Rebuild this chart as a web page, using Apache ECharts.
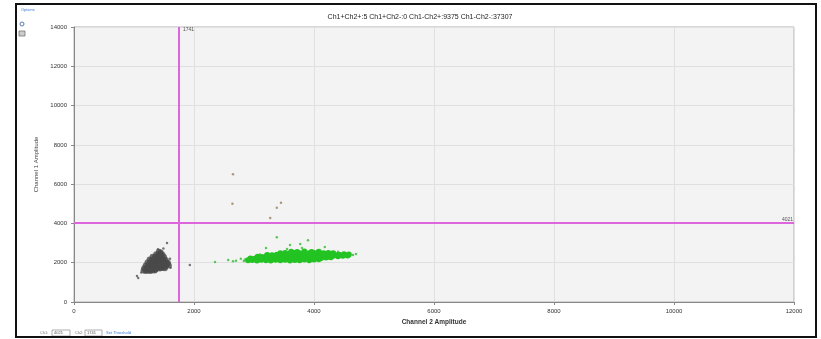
<!DOCTYPE html>
<html>
<head>
<meta charset="utf-8">
<script src="https://cdn.jsdelivr.net/npm/echarts@6/dist/echarts.min.js"></script>
<style>
  html, body { margin: 0; padding: 0; background: #fff; }
  #chart { width: 821px; height: 339px; }
</style>
</head>
<body>
<div id="chart"></div>
<script>
// counts shown in the title
const countLabels = ['Ch1+Ch2+', 'Ch1+Ch2-', 'Ch1-Ch2+', 'Ch1-Ch2-'];
const countValues = [5, 0, 9375, 37307];

// thresholds
const ch1Threshold = 4021;
const ch2Threshold = 1741;

const xTicks = [0, 2000, 4000, 6000, 8000, 10000, 12000];
const yTicks = [0, 2000, 4000, 6000, 8000, 10000, 12000, 14000];

// Ch1-Ch2- droplets, dense core (grey cluster) [Ch2, Ch1]
const negCore = [
  [1415, 2560], [1445, 2520],
  [1370, 2430], [1405, 2400], [1440, 2450], [1475, 2410],
  [1310, 2300], [1345, 2270], [1385, 2320], [1420, 2280], [1460, 2320], [1500, 2290],
  [1260, 2160], [1295, 2130], [1335, 2180], [1372, 2140], [1410, 2170], [1450, 2120], [1490, 2160], [1530, 2140],
  [1225, 2010], [1260, 1980], [1295, 2030], [1335, 1990], [1370, 2020], [1410, 1970], [1450, 2010], [1490, 1990], [1530, 2030], [1565, 2000],
  [1195, 1860], [1230, 1830], [1265, 1870], [1300, 1840], [1340, 1880], [1380, 1850], [1420, 1830], [1458, 1870], [1500, 1850], [1540, 1870], [1580, 1860],
  [1170, 1720], [1205, 1700], [1240, 1720], [1275, 1700], [1315, 1730], [1350, 1700], [1390, 1720], [1430, 1700], [1470, 1730], [1515, 1720],
  [1160, 1600], [1195, 1580], [1230, 1610], [1265, 1580], [1300, 1610], [1345, 1600],
  [1210, 1650], [1285, 1650], [1360, 1660], [1440, 1780], [1520, 1790], [1555, 1940],
  [1320, 2080], [1400, 2070], [1480, 2090], [1350, 1930], [1430, 1920], [1510, 1940]
];

// Ch1-Ch2- droplets, stragglers [Ch2, Ch1]
const negSparse = [
  [1550, 3000], [1490, 2720], [1400, 2680], [1070, 1220], [1050, 1330],
  [1600, 2200], [1930, 1880], [1120, 1500], [1610, 1750]
];

// Ch1-Ch2+ droplets, dense core (green cluster) [Ch2, Ch1]
const ch2Core = [
  [2900, 2120], [2970, 2140], [3050, 2110], [3120, 2150], [3200, 2120], [3280, 2110], [3360, 2150],
  [3440, 2120], [3520, 2150], [3600, 2110], [3680, 2140], [3760, 2120], [3840, 2160], [3920, 2130], [4000, 2170], [4080, 2180],
  [2940, 2220], [3010, 2200], [3080, 2240], [3160, 2210], [3240, 2230], [3320, 2200], [3400, 2240],
  [3480, 2210], [3560, 2200], [3640, 2250], [3720, 2210], [3800, 2200], [3880, 2240], [3960, 2220],
  [4040, 2260], [4120, 2240], [4200, 2270], [4280, 2280],
  [3060, 2300], [3130, 2290], [3200, 2320], [3280, 2300], [3360, 2310], [3440, 2290], [3520, 2330],
  [3600, 2300], [3680, 2290], [3760, 2320], [3840, 2310], [3920, 2300], [4000, 2330], [4080, 2310],
  [4160, 2340], [4240, 2320], [4320, 2350], [4400, 2330], [4480, 2360], [4560, 2370],
  [3220, 2390], [3300, 2380], [3380, 2410], [3460, 2390], [3540, 2400], [3620, 2380], [3700, 2420],
  [3780, 2400], [3860, 2390], [3940, 2420], [4020, 2400], [4100, 2390], [4180, 2420], [4260, 2400],
  [4340, 2420], [4420, 2410], [4500, 2430], [4580, 2420],
  [3440, 2480], [3520, 2490], [3600, 2470], [3680, 2500], [3760, 2480], [3840, 2500], [3920, 2480],
  [4000, 2500], [4080, 2490], [4160, 2480], [4240, 2500], [4320, 2480],
  [3620, 2560], [3720, 2540], [3840, 2570], [3960, 2550], [4080, 2560]
];

// Ch1-Ch2+ droplets, stragglers [Ch2, Ch1]
const ch2Sparse = [
  [2350, 2040], [2570, 2140], [2650, 2080], [2700, 2100], [2780, 2200], [2830, 2090], [2850, 2160],
  [3550, 2700], [3800, 2750], [3200, 2750], [3600, 2900], [3770, 2950], [3900, 3150],
  [4180, 2800], [4650, 2390], [4700, 2450], [3380, 3300], [4400, 2560], [3100, 2420]
];

// Ch1+Ch2+ droplets [Ch2, Ch1]
const dblPoints = [
  [2650, 6500], [2640, 5000], [3450, 5050], [3380, 4800], [3270, 4280]
];

const chart = echarts.init(document.getElementById('chart'));
const fontFamily = '"Liberation Sans", Arial, sans-serif';

const titleText = countLabels.map((l, i) => l + ':' + countValues[i]).join(' ');

chart.setOption({
  animation: false,
  textStyle: { fontFamily: fontFamily },
  title: {
    text: titleText,
    left: 415,
    top: 9,
    textAlign: 'center',
    textStyle: { fontSize: 7, fontWeight: 'normal', color: '#222' }
  },
  grid: {
    left: 74, right: 27, top: 27, bottom: 37,
    show: true,
    backgroundColor: '#f3f3f3',
    borderColor: '#b0b0b0',
    borderWidth: 1
  },
  xAxis: {
    type: 'value',
    min: xTicks[0],
    max: xTicks[xTicks.length - 1],
    interval: 2000,
    name: 'Channel 2 Amplitude',
    nameLocation: 'middle',
    nameGap: 15,
    nameTextStyle: { fontSize: 6.5, color: '#333', fontWeight: 'bold' },
    axisLine: { lineStyle: { color: '#888' } },
    axisTick: { show: true, length: 3, lineStyle: { color: '#888' } },
    axisLabel: { fontSize: 6, color: '#333', margin: 6, formatter: v => String(v) },
    splitLine: { lineStyle: { color: '#e0e0e0' } }
  },
  yAxis: {
    type: 'value',
    min: yTicks[0],
    max: yTicks[yTicks.length - 1],
    interval: 2000,
    name: 'Channel 1 Amplitude',
    nameLocation: 'middle',
    nameGap: 34,
    nameTextStyle: { fontSize: 6, color: '#444' },
    axisLine: { show: true, lineStyle: { color: '#888' } },
    axisTick: { show: true, length: 3, lineStyle: { color: '#888' } },
    axisLabel: { fontSize: 6, color: '#333', margin: 7, formatter: v => String(v) },
    splitLine: { lineStyle: { color: '#e0e0e0' } }
  },
  graphic: [
    { type: 'rect', shape: { x: 16, y: 4, width: 800, height: 333 },
      style: { fill: 'none', stroke: '#111', lineWidth: 2 }, z: 100 },
    { type: 'text', left: 21, top: 8,
      style: { text: 'Options', fontSize: 4, fill: '#3a7bd5', fontFamily: fontFamily } },
    { type: 'circle', shape: { cx: 22, cy: 24, r: 2 },
      style: { fill: 'none', stroke: '#5577aa', lineWidth: 1 } },
    { type: 'rect', shape: { x: 19, y: 31, width: 6, height: 5 },
      style: { fill: '#ccc', stroke: '#777', lineWidth: 0.8 } },
    { type: 'text', left: 40, top: 331,
      style: { text: 'Ch1:', fontSize: 4, fill: '#777', fontFamily: fontFamily } },
    { type: 'rect', shape: { x: 52, y: 330, width: 18, height: 6 },
      style: { fill: '#fff', stroke: '#999', lineWidth: 0.8 } },
    { type: 'text', left: 54, top: 331,
      style: { text: String(ch1Threshold), fontSize: 4, fill: '#555', fontFamily: fontFamily } },
    { type: 'text', left: 75, top: 331,
      style: { text: 'Ch2:', fontSize: 4, fill: '#777', fontFamily: fontFamily } },
    { type: 'rect', shape: { x: 85, y: 330, width: 17, height: 6 },
      style: { fill: '#fff', stroke: '#999', lineWidth: 0.8 } },
    { type: 'text', left: 87, top: 331,
      style: { text: String(ch2Threshold), fontSize: 4, fill: '#555', fontFamily: fontFamily } },
    { type: 'text', left: 106, top: 331,
      style: { text: 'Set Threshold', fontSize: 4, fill: '#3a7bd5', fontFamily: fontFamily } }
  ],
  series: [
    {
      name: 'Ch1-Ch2- core',
      type: 'scatter',
      data: negCore,
      symbolSize: 6,
      itemStyle: { color: '#4a4a4a', opacity: 0.8 }
    },
    {
      name: 'Ch1-Ch2- sparse',
      type: 'scatter',
      data: negSparse,
      symbolSize: 2.5,
      itemStyle: { color: '#555' }
    },
    {
      name: 'Ch1-Ch2+ core',
      type: 'scatter',
      data: ch2Core,
      symbolSize: 6,
      itemStyle: { color: '#22c322', opacity: 1 }
    },
    {
      name: 'Ch1-Ch2+ sparse',
      type: 'scatter',
      data: ch2Sparse,
      symbolSize: 2.5,
      itemStyle: { color: '#33bb33' }
    },
    {
      name: 'Ch1+Ch2+',
      type: 'scatter',
      data: dblPoints,
      symbolSize: 2.5,
      itemStyle: { color: '#a0805a' },
      markLine: {
        silent: true,
        symbol: 'none',
        lineStyle: { color: '#dd66dd', width: 2, type: 'solid' },
        data: [
          { xAxis: ch2Threshold,
            label: { show: true, position: 'end', formatter: String(ch2Threshold),
                     fontSize: 5, color: '#555', offset: [10, 10] } },
          { yAxis: ch1Threshold,
            label: { show: true, position: 'insideEndTop', formatter: String(ch1Threshold),
                     fontSize: 5, color: '#555', distance: 1 } }
        ]
      }
    }
  ]
});
</script>
</body>
</html>
